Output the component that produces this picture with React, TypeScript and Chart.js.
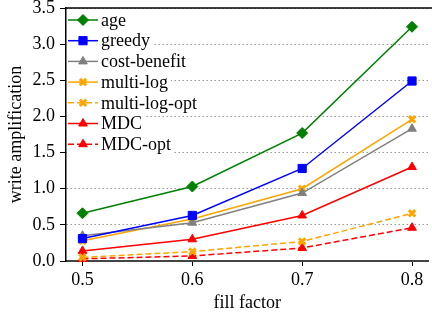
import React, { useEffect, useRef } from "react";
import { Chart, registerables } from "chart.js";
import { drawPoint } from "chart.js/helpers";

Chart.register(...registerables);

const fillFactors = [0.5, 0.6, 0.7, 0.8];
const age = [0.66, 1.03, 1.77, 3.24];
const greedy = [0.31, 0.63, 1.28, 2.49];
const costBenefit = [0.35, 0.53, 0.94, 1.83];
const multiLog = [0.28, 0.58, 1.0, 1.96];
const multiLogOpt = [0.05, 0.13, 0.27, 0.66];
const mdc = [0.14, 0.3, 0.63, 1.3];
const mdcOpt = [0.03, 0.07, 0.18, 0.46];

const seriesLabels = ["age", "greedy", "cost-benefit", "multi-log", "multi-log-opt", "MDC", "MDC-opt"];
const seriesValues = [age, greedy, costBenefit, multiLog, multiLogOpt, mdc, mdcOpt];
const seriesColors = ["#008000", "#0000ff", "#808080", "#ffa500", "#ffa500", "#ff0000", "#ff0000"];
const seriesMarkers = ["rectRot", "rect", "triangle", "crossRot", "crossRot", "triangle", "triangle"];
const seriesDashed = [false, false, false, false, true, false, true];

const xTickValues = [0.5, 0.6, 0.7, 0.8];
const FONT = "'Liberation Serif', 'Times New Roman', serif";
const FS = 18;

function markerRadius(style: string) {
  if (style === "rectRot") return 5.5;
  if (style === "rect") return 5.8;
  if (style === "crossRot") return 4.5;
  return 5;
}

const framePlugin = {
  id: "frameAndLegend",
  afterDraw(chart: any) {
    const ctx = chart.ctx;
    const { left, top, right } = chart.chartArea;
    ctx.save();
    ctx.strokeStyle = "#000";
    ctx.lineWidth = 1.5;
    ctx.setLineDash([]);
    ctx.beginPath();
    ctx.moveTo(left, top);
    ctx.lineTo(right + 5, top);
    ctx.stroke();

    ctx.font = `${FS}px ${FONT}`;
    ctx.textBaseline = "middle";
    chart.data.datasets.forEach((ds: any, i: number) => {
      const y = top + 12 + i * 20.7;
      const x0 = left + 2;
      const x1 = x0 + 30;
      const tw = ctx.measureText(ds.label).width;
      ctx.fillStyle = "#fff";
      ctx.fillRect(x0 - 1, y - 9, 30 + 4 + tw + 3, 18);
      ctx.strokeStyle = ds.borderColor;
      ctx.lineWidth = 1.5;
      ctx.setLineDash(ds.borderDash || []);
      ctx.beginPath();
      ctx.moveTo(x0, y);
      ctx.lineTo(x1, y);
      ctx.stroke();
      ctx.setLineDash([]);
      ctx.fillStyle = ds.borderColor;
      ctx.strokeStyle = ds.borderColor;
      ctx.lineWidth = ds.pointBorderWidth;
      drawPoint(ctx, { pointStyle: ds.pointStyle, radius: ds.pointRadius, rotation: 0, borderWidth: ds.pointBorderWidth }, (x0 + x1) / 2, y);
      ctx.fillStyle = "#000";
      ctx.fillText(ds.label, x1 + 3, y + 1);
    });
    ctx.restore();
  },
};

export default function App() {
  const ref = useRef<HTMLCanvasElement>(null);
  useEffect(() => {
    if (!ref.current) return;
    const datasets = seriesLabels.map((label, i) => ({
      label,
      data: fillFactors.map((x, j) => ({ x, y: seriesValues[i][j] })),
      borderColor: seriesColors[i],
      backgroundColor: seriesColors[i],
      borderWidth: 1.5,
      borderDash: seriesDashed[i] ? [6, 3] : [],
      pointStyle: seriesMarkers[i],
      pointRadius: markerRadius(seriesMarkers[i]),
      pointBorderWidth: seriesMarkers[i] === "crossRot" ? 3 : 1,
      pointBackgroundColor: seriesColors[i],
      pointBorderColor: seriesColors[i],
      tension: 0,
      clip: false as any,
    }));
    const chart = new Chart(ref.current, {
      type: "line",
      data: { datasets },
      plugins: [framePlugin],
      options: {
        animation: false,
        responsive: false,
        layout: { padding: { top: 8, right: 1, left: 0, bottom: 0 } },
        plugins: { legend: { display: false }, tooltip: { enabled: false } },
        scales: {
          x: {
            type: "linear",
            min: 0.485,
            max: 0.815,
            afterBuildTicks: (scale: any) => {
              scale.ticks = xTickValues.map((v) => ({ value: v }));
            },
            afterFit: (scale: any) => {
              scale.height = 56;
              scale.paddingLeft = 0;
              scale.paddingRight = 0;
            },
            ticks: {
              color: "#000",
              font: { family: FONT, size: FS },
              padding: 3,
              maxRotation: 0,
              callback: (v: any) => Number(v).toFixed(1),
            },
            grid: { drawOnChartArea: false, drawTicks: true, tickLength: 5, tickColor: "#000", tickWidth: 1 },
            border: { display: true, color: "#444", width: 2 },
            title: { display: true, text: "fill factor", color: "#000", font: { family: FONT, size: FS }, padding: { top: 0, bottom: 3 } },
          },
          y: {
            min: 0,
            max: 3.5,
            afterFit: (scale: any) => {
              scale.width = 66;
              scale.paddingTop = 0;
              scale.paddingBottom = 0;
            },
            ticks: {
              stepSize: 0.5,
              color: "#000",
              font: { family: FONT, size: FS },
              padding: 5,
              callback: (v: any) => Number(v).toFixed(1),
            },
            grid: { drawOnChartArea: true, drawTicks: true, tickLength: 6, tickColor: "#000", tickWidth: 1, color: "#999999", lineWidth: 1 },
            border: { display: true, color: "#000", width: 1.5, dash: [1.5, 2.5] },
            title: { display: true, text: "write amplification", color: "#000", font: { family: FONT, size: FS }, padding: { top: 5, bottom: 0 } },
          },
        },
      } as any,
    });
    return () => chart.destroy();
  }, []);
  return (
    <div style={{ position: "fixed", left: 0, top: 0, width: 432, height: 317, overflow: "hidden", background: "#fff" }}>
      <canvas ref={ref} width={436} height={317} style={{ display: "block", width: 436, height: 317 }} />
    </div>
  );
}
